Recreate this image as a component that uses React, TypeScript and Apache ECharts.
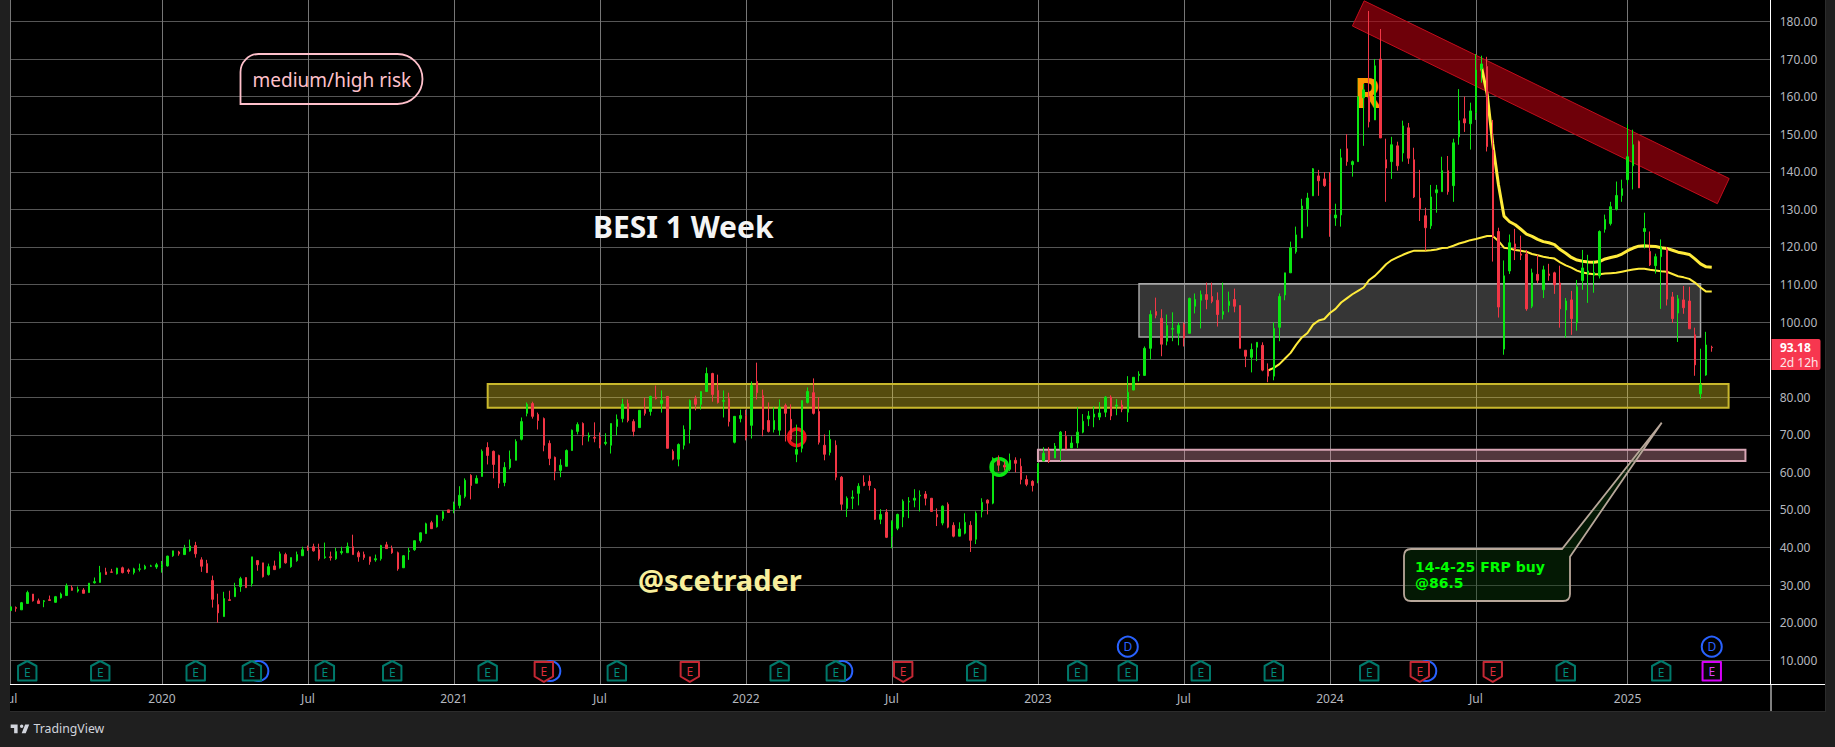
import React, { useEffect, useRef } from "react";
import * as echarts from "echarts";

// Weekly bars, one list per calendar year, each row [open, high, low, close]
const bars2019 = [
  [23.2,24.2,23.2,24.2],[24,24.3,22.9,23.8],[23.4,25.5,23.4,25.3],[25.1,28.5,25.1,28],[27.6,27.6,25.6,25.8],[25.8,26.4,25.1,25.1],
  [25.6,26,24.1,25.8],[26.1,27.2,25.9,25.9],[25.4,27.1,25.3,26.9],[26.6,28,26.4,27.6],[27.2,30.4,27.2,29.8],[29.3,29.9,28.5,28.6],
  [28.4,29.6,28,28.8],[28.7,29.2,27.8,27.8],[28,30.5,28,30.5],[30.6,32,30.4,30.9],[30.7,35.1,30.7,33.3],[33.5,34.6,32.8,32.8],
  [33.5,34.3,33.3,33.4],[33,34.6,32.8,34.5],[34.6,34.9,33.1,33.3],[34,34.4,33,33.6],[33.3,34.6,32.8,34.3],[34.2,35.7,33.6,34.3],
  [34.3,35.4,34.1,35],[35,35.4,34.9,35.1],[34.8,35.9,34.3,35.4],
];
const bars2020 = [
  [34.7,36.4,33.3,35.4],[35.1,37.8,34.9,37.7],[37.8,39.1,37.5,39.1],[38.8,39.1,37.8,38.3],[38.1,40.7,38.1,39.8],[39.1,42.1,38.9,40.4],
  [40.5,41.5,37.3,38.3],[36.7,37.4,33.5,35],[35.7,36.7,33.2,33.3],[31.2,32.5,24,26.2],[24.8,27.7,20,22.6],[21.6,28.2,21.6,26.4],
  [26.1,28.5,25.9,25.9],[26.9,30.6,26.9,29.3],[29.6,32.2,28.2,31.7],[32,32,29.3,29.3],[30.4,37.5,29.6,37.5],[36.5,36.5,33.8,35.4],
  [35.9,35.9,32,32.2],[32.8,35.7,32.5,34.9],[35.1,36.5,34,34.1],[34.6,38.9,34.4,38.3],[38.1,38.6,35.7,35.9],[34.9,37.3,34.6,37.3],
  [36.5,38.9,36.2,38.1],[37.8,40.2,37.8,39.4],[39.9,40.5,39.1,39.4],[40.2,41,38.9,39.1],[39.4,41,36.5,37],[37.3,41.3,37,37.5],
  [37.5,38.9,36.5,37.3],[37,39.9,36.7,38.9],[38.6,40.2,38.1,38.9],[38.6,41.3,38.6,40.2],[40.2,43.4,38.1,38.1],[38.6,39.1,36.2,37.5],
  [38.1,38.9,36.7,37.3],[37.5,37.5,35.4,36.2],[36.7,38.1,36.2,37],[37,40.7,36.5,40.5],[40.7,41.5,39.7,39.7],[39.7,40.5,38.3,38.6],
  [38.6,38.9,33.8,34.3],[34.6,38,34.6,37.8],[38.9,39.9,36.7,39.1],[39.4,41.8,39.1,41.8],[41.8,44,41.3,43.9],[43.7,46.6,43.7,46.3],
  [46.6,47.1,45,45],[45.5,48.7,45.3,48.5],[47.7,49.8,47.1,49.5],[50,50,49.3,49.3],
];
const bars2021 = [
  [50.1,52.2,49.1,51.5],[51.2,56.3,50.4,53.9],[53.6,58.4,53.1,57.9],[59.2,59.5,52.8,56.5],[57.1,59.2,57.1,58.4],[58.9,66.1,58.9,65.6],
  [66.6,68,62.1,64.5],[65.6,65.8,58.4,62.1],[64.5,64.7,55.8,57.1],[57.3,62.7,56.3,61.3],[61.3,65.8,60.8,63.5],[63.2,68.8,63.2,68.2],
  [68.8,74.6,68.5,73.5],[75.7,78.6,74.9,78.1],[78.3,78.8,74.3,74.9],[75.4,75.9,71.4,73.8],[74.3,74.6,65.6,67.2],[67.7,68.5,61.9,63.7],
  [64,64.2,57.9,60.3],[60.5,63.5,58.7,61.9],[61.6,66.1,61.6,65.8],[65.8,71.4,65.8,71.2],[70.9,73.3,70.1,72.7],[73,73.3,67.2,69.6],
  [69.4,70.6,68.2,69.8],[69.3,73.3,68,69.1],[69.3,70.6,66.4,67.4],[67.7,70.4,67.2,68],[67.2,73,65,73],[72.2,75.4,69.8,74.1],
  [74.3,79.6,73.3,78.1],[78.3,79.4,73.3,73.8],[73.5,74.1,69.6,70.9],[71.9,76.5,71.9,76.5],[76.7,79.9,75.1,75.7],[76.2,80.4,75.1,80.2],
  [80,83.1,79.4,79.6],[78.3,81.8,75.9,79.1],[80.2,80.2,66.4,66.4],[65.6,66.1,63.2,63.5],[63.5,67.7,61.6,67.4],[67.2,72.5,66.1,71.4],
  [71.4,79.4,67.7,79.1],[79.6,80.4,76.5,78.1],[78.1,81.5,76.7,81.5],[81.5,87.9,81.5,86.3],[86.3,86.5,78.8,80.7],[81.8,86,78.3,78.6],
  [78.9,81.8,74.6,79.1],[79.6,81.2,72.2,73.5],[68,75,67.7,74.9],[74.3,76.7,73.3,75.1],
];
const bars2022 = [
  [75.1,76.7,68.5,69.3],[72.5,84.2,69,83.1],[84.2,89.2,79.4,81.2],[80.4,82,69.6,71.4],[73.8,78.6,70.6,70.9],[71.4,77.3,70.6,73.8],
  [71.2,79.4,69.8,77.3],[77.8,78.3,68.2,75.7],[74.1,78.1,68.2,68.8],[64.8,72.7,62.7,66.1],[66.4,79.1,65.3,79.1],[78.6,82.6,78.3,81.5],
  [81.2,85,75.4,75.7],[76.2,80,67.4,68],[67.2,70.1,63.2,64.8],[65.3,71.2,64.5,68.8],[67.2,68.5,57.9,58.7],[58.7,59,49.9,51.5],
  [50.4,53.6,48.1,53.1],[53.1,55.2,50.2,53.4],[54.4,57.1,51.2,56.3],[57.3,59.2,56.3,56.5],[57.6,59.2,55.2,56.5],[55.5,55.8,47.3,47.5],
  [47.5,50.2,46.2,48.8],[49.4,50.2,42.5,42.7],[43,47.2,39.8,47],[45.1,49,44.6,48.8],[48.1,52.8,45.4,52.3],[52.1,53.4,47.8,52.3],
  [52.6,55.5,50.7,53.1],[53.7,55.2,49.6,53.9],[54.2,55,51.2,53.1],[53.1,53.1,49.6,49.6],[48.8,50.4,45.7,48.1],[46.5,51.2,45.9,51],
  [51.5,52,45.1,45.4],[45.9,46.7,42.7,43],[43,46.7,43,44.9],[43.8,49.1,43.5,46.7],[45.9,47,38.8,41.9],[42.2,49.6,40.9,49.1],
  [49.6,53.1,48,52],[52.6,52.8,48.8,51.8],[51.8,64,51.5,63.7],[63.2,64.5,60.3,61.9],[61.9,62.9,60.5,61.4],[60.8,65,60.3,63.2],
  [63.2,64,60,62.4],[61.6,63.7,56.8,58.1],[58.1,59.2,56.3,56.8],[57.6,57.9,54.9,56.5],
];
const bars2023 = [
  [57.9,62.4,57.1,62.4],[63,66.7,63,65.1],[65.7,66.7,62.5,63],[63.8,67.8,63.8,67],[66.2,71,63,70.7],[69.6,71,66.2,66.2],
  [66.5,69.6,66.5,67.8],[67.8,77.3,66.5,70.7],[70.7,75.5,70.4,73.6],[74.2,76.3,72.3,75],[74.7,77.6,72,75.5],[74.7,78.7,73.9,75.8],
  [76,80.3,74.7,80],[80,80.5,73.9,75],[77.6,79.5,75.2,77.9],[77.9,79.2,76,76.8],[76,85.6,73.4,81.3],[81.9,85.3,81.9,85.3],
  [85.8,86.9,84.2,86.1],[85.8,93.5,85.8,93],[93,103.1,90.1,102],[102.8,106.5,101,101.8],[101,103.4,90.9,94.1],[94.9,102,93.8,99.1],
  [98.1,102.6,94.9,98.3],[97,99.9,93.8,99.1],[99.4,99.9,93.5,95.7],[97,106.5,97,106.3],[104.2,107.6,102.3,106],[105.8,108.4,98.3,107.3],
  [107.3,110.5,103.4,106],[106.8,110.5,105,105.5],[105.8,107.9,98.8,102],[102,110.5,100.7,102.8],[104.4,108.1,102.6,105.5],[106,108.9,102.6,104.2],
  [104.4,104.4,93,93],[92.5,92.5,88,90.9],[90.6,94.3,86.6,92.7],[93.3,94.6,89.6,94.6],[93.8,94.6,86.9,87.2],[87.4,89,84,85.6],
  [85.6,99.9,84.5,98.3],[98.6,107.6,94.9,106.8],[107.2,113.1,105.8,113.1],[113.1,121.4,113.1,119.8],[118.7,125.4,118.2,123.2],[122.4,132.8,122.4,130.9],
  [130.1,134.4,125.4,133],[133.6,141,133.6,140.8],[138.9,140.5,133.6,137.6],[138.1,139.9,136,136.3],
];
const bars2024 = [
  [137.1,139.9,122.7,128.8],[127.7,131.5,125.6,128.5],[128.5,146.1,125.4,143.7],[146.1,150,141.6,142.7],[141.9,143,138.7,142.7],[142.7,160,142.7,160],
  [159.7,163.4,146.9,161.8],[160,182.8,151.8,153.3],[153.8,170,153.8,168.2],[170,178,149,149],[143.2,148.8,132,141],[142.7,149.3,138.1,147.2],
  [146.9,148,140.3,141.6],[145,153.6,142.7,152.2],[151.7,153,142.1,143.6],[143.2,146.4,133,133.3],[133,140.5,126.9,130.1],[128.3,130.4,119,125.1],
  [125.6,136.5,124.8,133.3],[134.4,136.5,129.1,135.2],[134.7,144,134.7,140.3],[140.3,144.2,133.9,134.7],[136.3,148.8,132,147.7],[149.3,162,147.2,153.6],
  [154.1,160,150.6,153],[152.8,158.4,145.9,156.2],[155.7,171.3,153.8,167.1],[167.4,170.9,163.7,168.7],[168,170.6,145.4,146.7],[145.8,153.8,116.1,122.7],
  [124.1,125.1,101.2,104],[92.8,116.4,91.3,112.3],[113.6,123.3,112.8,121.1],[120.8,124.8,116.5,119.2],[118.1,123,116.5,117.8],[118.1,119.2,103,103.5],
  [104.2,114.2,103.7,113.1],[112.7,117.9,110.3,111.1],[108.6,115,106.4,113.9],[112.8,115.5,111,112.4],[113.1,113.4,107.5,109.9],[110.4,115,98.5,103.5],
  [103.2,106.4,95.8,105.6],[105.9,108.3,96.6,100.9],[99.8,111.2,97.7,109.4],[111,119.2,108.6,114.4],[112.7,117.9,105.1,113.6],[112.5,116.3,107.8,113.2],
  [112.3,124.4,111.6,124.1],[124.7,128.6,123.8,127.3],[126.2,132,125.7,130.7],[130,137.4,129.7,133.7],[133.7,137.9,132,135.5],
];
const bars2025 = [
  [137.9,152.6,136.6,144],[141.6,151.2,135.3,147.2],[148,148.3,135.7,135.7],[124.1,129.1,119.6,124.9],[118.8,124.1,114.9,115.2],[115,118.2,112.9,117.4],
  [117.4,122,103.5,119.8],[119.4,120,104.4,106.1],[106.7,108,99.8,100.9],[102.4,107.2,94.7,106.2],[105.9,109.6,102.2,103.8],[105.6,109.4,98.2,98.2],
  [96.6,98.5,85.7,88.6],[80.9,92.9,79.6,83.3],[85.9,97.4,85.7,93.9],[93.3,93.7,92.1,93.18],
];

// Two anchored average lines, listed week by week from their first week
const lowerLineStartWeek = 224;
const lowerLine = [
  87.1,87.8,88.8,90.3,91.8,94,95.9,97.1,99.3,100.4,100.8,102.4,103.5,105.2,106.3,107.4,108.3,109.2,111.2,112.3,
  113.8,115.4,116.5,117.2,117.9,118.5,119,119,119,119.1,119.3,119.7,119.8,120.3,120.9,121.3,121.8,122.1,122.5,122.9,
  122.9,121.6,119.8,119.6,119.2,119,118.7,118.1,117.8,117.4,117.1,116.9,115.9,115.1,114.5,113.7,113.2,112.9,112.7,112.7,
  112.9,113,113.1,113.4,113.7,114,114.2,114.2,113.9,113.7,113.5,113.4,112.8,112.2,111.9,111.5,110.5,109.2,108.1,108.1,
];
const upperLineStartWeek = 262;
const upperLine = [
  167.8,160.7,147.4,136.7,128.2,126.7,125.9,124.7,123.4,122.8,122,121.4,121.1,120.6,119.3,118.3,117.2,116.5,116.2,116,
  115.9,116.1,116.8,117.2,117.5,118.1,119,119.7,120.2,120.3,120.2,120.1,119.8,119.6,119.1,118.6,118.3,118,116.8,115.5,114.7,114.6,
];

const priceGridLines = [10,20,30,40,50,60,70,80,90,100,110,120,130,140,150,160,170,180];
// 90.00 sits under the last-price tag, so it has no visible label
const priceLabels = [10,20,30,40,50,60,70,80,100,110,120,130,140,150,160,170,180];
const timeTickWeeks = [0,27,53,79,105,131,157,183,209,235,261,288];
const timeTickLabels = ["Jul","2020","Jul","2021","Jul","2022","Jul","2023","Jul","2024","Jul","2025"];

// Drawn price zones: first week, last week, upper price, lower price
const yellowZone = [85, 306, 83.5, 77.2];
const greyZone = [201, 301, 110.2, 96];
const pinkZone = [183, 309, 66, 63];
// Falling red channel: corners as [week, price]
const redChannel = [[241.1,185.5],[306.1,138.2],[304,131.5],[239,178.8]];

// Event markers, by week
const earningsBeatWeeks = [3,16,33,43,56,68,85,108,137,147,172,190,199,212,225,242,277,294];
const earningsMissWeeks = [95,121,159,251,264];
const earningsNextWeeks = [303];
const dividendBehindWeeks = [43,95,147,251];
const dividendAboveWeeks = [199,303];

const lastPriceText = "93.18";
const countdownText = "2d 12h";

const FONT = '"Noto Sans", sans-serif';
const GREEN = "#0ae612";
const RED = "#f23645";
const TOTAL_SLOTS = 314;
const AXIS_Y = 684;

const allBars = [...bars2019, ...bars2020, ...bars2021, ...bars2022, ...bars2023, ...bars2024, ...bars2025];
const pad = (start: number, values: number[]) => [...Array(start).fill(null), ...values];

const LOGO = "M14 6H2v6h6v9h6V6Zm14 15h-7l6-15h7l-6 15Zm-7-9a3 3 0 1 0 0-6 3 3 0 0 0 0 6Z";
const CALLOUT =
  "M1411 549L1562 549L1661.7 422.7L1570 556.7L1570 594Q1570 601 1563 601L1411 601Q1404 601 1404 594L1404 556Q1404 549 1411 549Z";

echarts.graphic.registerShape("tvLogo", echarts.graphic.extendPath(LOGO, {}) as any);
echarts.graphic.registerShape("calloutBox", echarts.graphic.extendPath(CALLOUT, {}) as any);

function zoneArea(zone: number[], fill: string, stroke: string, width: number) {
  return [
    { xAxis: zone[0], yAxis: zone[2], itemStyle: { color: fill, borderColor: stroke, borderWidth: width } },
    { xAxis: zone[1], yAxis: zone[3] },
  ];
}

function badge(weeks: number[], draw: (x: number) => any[]) {
  return {
    type: "custom",
    coordinateSystem: "cartesian2d",
    z: 6,
    clip: false,
    silent: true,
    data: weeks.map((w) => [w, 10]),
    encode: { x: 0, y: 1 },
    renderItem: (_p: any, api: any) => {
      const x = api.coord([api.value(0), 10])[0];
      return { type: "group", children: draw(x) };
    },
  };
}

function letter(t: string, x: number, y: number, color: string) {
  return {
    type: "text",
    x,
    y,
    style: { text: t, fill: color, font: `12px ${FONT}`, align: "center", verticalAlign: "middle", textAlign: "center", textVerticalAlign: "middle" },
  };
}

function poly(points: number[][], stroke: string) {
  return {
    type: "polygon",
    shape: { points },
    style: { fill: "#050505", stroke, lineWidth: 2, lineJoin: "round" },
  };
}

function dividendMark(x: number, y: number, withLetter: boolean) {
  const blue = "#2962ff";
  const ring = { type: "circle", shape: { cx: x, cy: y, r: 10 }, style: { fill: "#000", stroke: blue, lineWidth: 2 } };
  return withLetter ? [ring, letter("D", x, y, blue)] : [ring];
}

export default function App() {
  const ref = useRef<HTMLDivElement>(null);
  useEffect(() => {
    document.body.style.margin = "0";
    document.body.style.background = "#1f1f1f";
    const chart = echarts.init(ref.current!, null, { renderer: "svg" });

    const weekNames: string[] = [];
    const d0 = Date.UTC(2019, 6, 1);
    for (let i = 0; i < TOTAL_SLOTS; i++) weekNames.push(new Date(d0 + i * 7 * 86400000).toISOString().slice(0, 10));

    const text = (t: string, x: number, y: number, font: string, fill: string, z = 20, align = "left") => ({
      type: "text",
      z,
      style: { text: t, x, y, font, fill, align, verticalAlign: "middle", textAlign: align, textVerticalAlign: "middle" },
      silent: true,
    });

    chart.setOption({
      animation: false,
      backgroundColor: "transparent",
      grid: { left: 7.6, top: 0, width: TOTAL_SLOTS * 5.615, height: AXIS_Y, containLabel: false },
      xAxis: {
        type: "category",
        data: weekNames,
        boundaryGap: true,
        axisLine: { show: true, onZero: false, lineStyle: { color: "#ffffff", width: 1 } },
        axisTick: { show: false, interval: (i: number) => timeTickWeeks.includes(i) },
        axisLabel: {
          interval: (i: number) => timeTickWeeks.includes(i),
          formatter: (_v: string, i: number) => timeTickLabels[timeTickWeeks.indexOf(i)] ?? "",
          color: "#b4b7bf",
          fontFamily: FONT,
          fontSize: 12,
          margin: 8,
          hideOverlap: false,
          showMinLabel: true,
        },
        splitLine: {
          show: true,
          alignWithLabel: true,
          interval: (i: number) => timeTickWeeks.includes(i),
          lineStyle: { color: "#767676", width: 1 },
        },
      },
      yAxis: {
        type: "value",
        position: "right",
        min: 3.66,
        max: 185.72,
        axisLine: { show: true, lineStyle: { color: "#ffffff", width: 1 } },
        axisTick: { show: false, customValues: priceGridLines },
        axisLabel: {
          customValues: priceLabels,
          formatter: (v: number) => (v <= 20 ? v.toFixed(3) : v.toFixed(2)),
          color: "#b4b7bf",
          fontFamily: FONT,
          fontSize: 12,
          margin: 9,
          showMinLabel: true,
          showMaxLabel: true,
        },
        splitLine: { show: true, lineStyle: { color: "#565656", width: 1 } },
      },
      series: [
        {
          type: "custom",
          coordinateSystem: "cartesian2d",
          z: 1,
          silent: true,
          data: [[redChannel[0][0], redChannel[0][1]]],
          encode: { x: 0, y: 1 },
          renderItem: (_p: any, api: any) => {
            const unit = api.size([1, 0])[0];
            const pts = redChannel.map(([w, v]) => {
              const base = Math.floor(w);
              const c = api.coord([base, v]);
              return [c[0] + (w - base) * unit, c[1]];
            });
            return {
              type: "polygon",
              shape: { points: pts },
              style: { fill: "rgba(178,0,14,0.62)", stroke: "#c20d1c", lineWidth: 1 },
            };
          },
        },
        {
          type: "line",
          data: pad(lowerLineStartWeek, lowerLine),
          symbol: "none",
          z: 3,
          lineStyle: { color: "#ffeb3b", width: 2 },
          silent: true,
        },
        {
          type: "line",
          data: pad(upperLineStartWeek, upperLine),
          symbol: "none",
          z: 3,
          lineStyle: { color: "#ffeb3b", width: 3 },
          silent: true,
        },
        {
          type: "candlestick",
          z: 5,
          barWidth: 2,
          data: allBars.map(([o, h, l, c]) => [o, c, l, h]),
          itemStyle: { color: GREEN, color0: RED, borderColor: GREEN, borderColor0: RED, borderWidth: 1 },
          silent: true,
          markArea: {
            silent: true,
            z: 1,
            data: [
              zoneArea(yellowZone, "rgba(250,222,40,0.34)", "#c9b82c", 2),
              zoneArea(greyZone, "rgba(255,255,255,0.21)", "#a6a6a6", 1.5),
              zoneArea(pinkZone, "rgba(255,170,190,0.32)", "#d8a5b4", 2),
            ],
          },
        },
        badge(dividendBehindWeeks, (x) => dividendMark(x + 6.5, 671, false)),
        badge(dividendAboveWeeks, (x) => dividendMark(x, 646.7, true)),
        badge(earningsBeatWeeks, (x) => [
          poly([[x, 661],[x + 9.2, 666],[x + 9.2, 680.4],[x - 9.2, 680.4],[x - 9.2, 666]], "#00796b"),
          letter("E", x, 672, "#00897b"),
        ]),
        badge(earningsMissWeeks, (x) => [
          poly([[x - 9.2, 662],[x + 9.2, 662],[x + 9.2, 676.5],[x, 681.8],[x - 9.2, 676.5]], "#c62834"),
          letter("E", x, 671, "#dd2c3a"),
        ]),
        badge(earningsNextWeeks, (x) => [
          poly([[x - 9.2, 662],[x + 9.2, 662],[x + 9.2, 680.6],[x - 9.2, 680.6]], "#d500f9"),
          letter("E", x, 671.5, "#e040fb"),
        ]),
      ],
      graphic: [
        { type: "rect", z: 30, silent: true, shape: { x: 0, y: 0, width: 10, height: 747 }, style: { fill: "#1f1f1f" } },
        { type: "line", z: 30, silent: true, shape: { x1: 1770, y1: AXIS_Y + 0.5, x2: 1825, y2: AXIS_Y + 0.5 }, style: { stroke: "#fff", lineWidth: 1 } },
        { type: "line", z: 30, silent: true, shape: { x1: 1771, y1: AXIS_Y, x2: 1771, y2: 711 }, style: { stroke: "#fff", lineWidth: 1 } },

        // Annotations
        { type: "circle", z: 1, silent: true, shape: { cx: 796.7, cy: 437.3, r: 8.2 }, style: { fill: "rgba(240,20,20,0.18)", stroke: "#ec1218", lineWidth: 3.6 } },
        { type: "circle", z: 1, silent: true, shape: { cx: 999.3, cy: 467, r: 8.2 }, style: { fill: "rgba(10,230,18,0.2)", stroke: GREEN, lineWidth: 3.6 } },
        text("R", 1354, 91.5, `bold 41px ${FONT}`, "#ff9800", 1),
        text("BESI 1 Week", 593, 226, `bold 30px ${FONT}`, "#f4f4f4"),
        text("@scetrader", 638, 579, `bold 29px ${FONT}`, "#f8ef9c"),
        {
          type: "rect",
          z: 20,
          silent: true,
          shape: { x: 240.5, y: 54, width: 182, height: 50, r: [18, 25, 25, 0] },
          style: { fill: "rgba(0,0,0,0)", stroke: "#ffc0cb", lineWidth: 1.8 },
        },
        text("medium/high risk", 252.5, 80, `19px ${FONT}`, "#ffc0cb"),
        {
          type: "calloutBox",
          z: 20,
          silent: true,
          x: 0,
          y: 0,
          style: { fill: "rgba(10,60,10,0.42)", stroke: "#b8a79a", lineWidth: 1.8 },
        },
        {
          type: "text",
          z: 21,
          silent: true,
          style: {
            text: "14-4-25 FRP buy\n@86.5",
            x: 1415,
            y: 575,
            font: 'bold 14px "DejaVu Sans", sans-serif',
            lineHeight: 16,
            fill: "#00ff00",
            align: "left",
            verticalAlign: "middle",
            textAlign: "left",
            textVerticalAlign: "middle",
          },
        },

        // Last price tag
        { type: "rect", z: 25, silent: true, shape: { x: 1771.5, y: 339, width: 49, height: 31, r: [0, 2, 2, 0] }, style: { fill: "#f7374f" } },
        text(lastPriceText, 1780, 347.7, `bold 12px ${FONT}`, "#ffffff", 26),
        text(countdownText, 1780, 362, `12px ${FONT}`, "#fde6e9", 26),

        // Footer brand
        { type: "tvLogo", z: 30, silent: true, x: 9.5, y: 721, scaleX: 0.58, scaleY: 0.58, style: { fill: "#d1d4dc" } },
        text("TradingView", 33.5, 728, `12.3px ${FONT}`, "#d1d4dc", 30),
      ],
    } as any);
    return () => chart.dispose();
  }, []);

  return (
    <div style={{ position: "absolute", left: 0, top: 0, width: 1835, height: 747, background: "#1f1f1f", overflow: "hidden" }}>
      <div style={{ position: "absolute", left: 10, top: 0, width: 1815, height: 711, background: "#000", borderBottom: "1px solid #2c2c2c", borderRight: "1px solid #2c2c2c" }} />
      <div ref={ref} style={{ position: "absolute", left: 0, top: 0, width: 1835, height: 747 }} />
    </div>
  );
}
